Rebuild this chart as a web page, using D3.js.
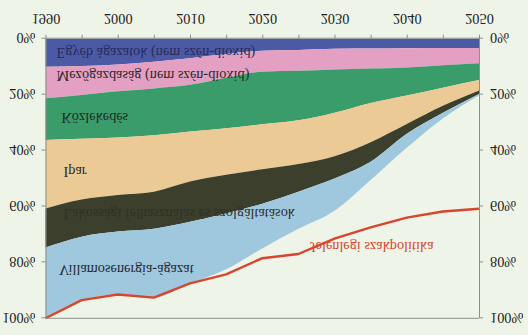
<!DOCTYPE html>
<html>
<head>
<meta charset="utf-8">
<script src="https://cdn.jsdelivr.net/npm/d3@7"></script>
<style>
  html, body { margin: 0; padding: 0; background: #eef4e7; }
  svg { display: block; }
  text { font-family: "Liberation Serif", "Times New Roman", serif; }
</style>
</head>
<body>
<svg id="chart" width="528" height="335"></svg>
<script>
// ---- data (percent of 1990 emissions) ----
const years = [1990, 1995, 2000, 2005, 2010, 2015, 2020, 2025, 2030, 2035, 2040, 2045, 2050];
const egyebAgazatok   = [10.0, 9.8, 9.2, 8.2, 7.0, 5.5, 4.3, 4.0, 3.6, 3.5, 3.4, 3.3, 3.3];
const mezogazdasag    = [11.3, 10.3, 9.6, 9.6, 9.5, 8.5, 7.5, 7.5, 7.4, 7.2, 6.9, 6.2, 5.5];
const kozlekedes      = [14.9, 15.7, 16.5, 16.7, 16.7, 18.0, 18.8, 17.7, 15.5, 12.3, 10.0, 8.0, 6.0];
const ipar            = [24.5, 21.7, 20.6, 20.2, 17.9, 16.7, 16.1, 15.6, 15.5, 14.0, 10.2, 6.5, 3.7];
const lakossagi       = [14.0, 13.3, 13.1, 13.3, 14.4, 13.8, 12.3, 9.9, 8.0, 7.0, 3.5, 2.5, 1.3];
const villamosenergia = [25.3, 22.7, 22.5, 24.6, 22.0, 20.0, 16.0, 13.3, 11.5, 6.5, 5.0, 2.0, 0.5];
const jelenlegi       = [100, 93.5, 91.5, 92.6, 87.5, 84.3, 78.5, 77.0, 71.5, 67.5, 64.0, 61.8, 60.8];

const sectorKeys   = ["egyeb", "mezo", "kozl", "ipar", "lakos", "villamos"];
const sectorLabels = ["Egyéb ágazatok (nem szén-dioxid)", "Mezőgazdaság (nem szén-dioxid)", "Közlekedés",
                      "Ipar", "Lakossági felhasználás és szolgáltatások", "Villamosenergia-ágazat"];
const policyLabel  = "Jelenlegi szakpolitika";
const yearTicks    = [1990, 1995, 2000, 2005, 2010, 2015, 2020, 2025, 2030, 2035, 2040, 2045, 2050];
const pctTicks     = [0, 20, 40, 60, 80, 100];

// ---- styles ----
const colors = { egyeb: "#4c5aa6", mezo: "#e3a0c3", kozl: "#3b9c6b", ipar: "#ebca95", lakos: "#3b3f2c", villamos: "#9fc7de" };
const labelColors = { egyeb: "#262b58", mezo: "#2a2a2a", kozl: "#1f2a22", ipar: "#2a2a2a", lakos: "#2f3128", villamos: "#1f2a33" };
// label positions in the final (flipped) picture: [x, baseline y]
const labelPos = { egyeb: [56.5, 48], mezo: [56.5, 71.3], kozl: [61.5, 112.7], ipar: [63.5, 166.5], lakos: [63.5, 209], villamos: [59, 265] };
const policyPos = [310, 242];

const W = 528, H = 335;
const svg = d3.select("#chart");
svg.append("rect").attr("width", W).attr("height", H).attr("fill", "#eef4e7");

// The whole picture is a vertically mirrored chart
const g = svg.append("g").attr("transform", `translate(0,${H}) scale(1,-1)`);

const x = d3.scaleLinear().domain([1990, 2050]).range([45.5, 479]);
const y = d3.scaleLinear().domain([0, 100]).range([H - 38.7, H - 318.3]);

const table = years.map((yr, i) => ({
  year: yr, egyeb: egyebAgazatok[i], mezo: mezogazdasag[i], kozl: kozlekedes[i],
  ipar: ipar[i], lakos: lakossagi[i], villamos: villamosenergia[i]
}));
const stacked = d3.stack().keys(sectorKeys)(table);

const area = d3.area()
  .curve(d3.curveMonotoneX)
  .x(d => x(d.data.year))
  .y0(d => y(d[0]))
  .y1(d => y(d[1]));

g.selectAll("path.band").data(stacked).join("path")
  .attr("class", "band")
  .attr("d", area)
  .attr("fill", d => colors[d.key]);

// current policy line
const line = d3.line().x((d, i) => x(years[i])).y(d => y(d));
g.append("path").datum(jelenlegi)
  .attr("d", line).attr("fill", "none")
  .attr("stroke", "#d8452f").attr("stroke-width", 2.4).attr("stroke-linejoin", "round");

// axes
const axisColor = "#8c918a";
const fontSize = 14.3;

const xAxis = g.append("g").attr("transform", `translate(0,${y(0)})`)
  .call(d3.axisBottom(x).tickValues(yearTicks).tickSize(4).tickSizeOuter(0)
        .tickFormat(d => d % 10 === 0 ? d : ""));
xAxis.selectAll("text").attr("y", 19.7).attr("dy", "0.33em")
  .attr("font-size", fontSize).attr("fill", "#222").attr("font-family", "Liberation Serif");

const yLeft = g.append("g").attr("transform", `translate(${x(1990)},0)`)
  .call(d3.axisLeft(y).tickValues(pctTicks).tickSize(4).tickPadding(6).tickSizeOuter(0).tickFormat(d => d + "%"));
const yRight = g.append("g").attr("transform", `translate(${x(2050)},0)`)
  .call(d3.axisRight(y).tickValues(pctTicks).tickSize(4).tickPadding(7).tickSizeOuter(0).tickFormat(d => d + "%"));
[yLeft, yRight].forEach(a => a.selectAll("text").attr("dy", "0.33em")
  .attr("font-size", fontSize).attr("fill", "#222").attr("font-family", "Liberation Serif"));

[xAxis, yLeft, yRight].forEach(a => {
  a.selectAll(".domain").attr("stroke", axisColor);
  a.selectAll(".tick line").attr("stroke", axisColor);
});
g.append("line").attr("x1", x(1990)).attr("x2", x(2050)).attr("y1", y(100)).attr("y2", y(100))
  .attr("stroke", axisColor);

// labels (drawn in the chart frame, so they appear mirrored like the reference)
sectorKeys.forEach((k, i) => {
  g.append("text")
    .attr("x", labelPos[k][0]).attr("y", H - labelPos[k][1])
    .attr("font-size", fontSize).attr("fill", labelColors[k])
    .text(sectorLabels[i]);
});
g.append("text")
  .attr("x", policyPos[0]).attr("y", H - policyPos[1])
  .attr("font-size", fontSize).attr("fill", "#d8452f")
  .text(policyLabel);
</script>
</body>
</html>
